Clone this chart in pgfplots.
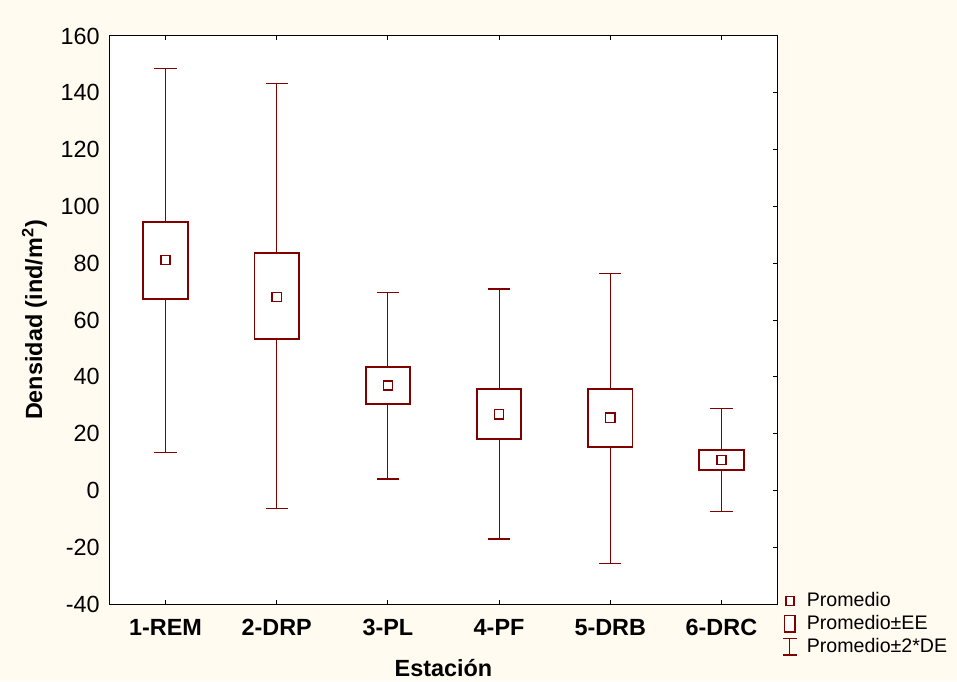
\documentclass[border=0pt]{standalone}
\usepackage{fontspec}
\setmainfont{Liberation Sans}
\usepackage{pgfplots}
\pgfplotsset{compat=1.18}
\usepgfplotslibrary{statistics}
\definecolor{boxred}{RGB}{128,0,0}
\definecolor{paper}{RGB}{255,251,240}
\newcommand{\tickfont}{\fontsize{11.7}{14}\selectfont}
\newcommand{\legfont}{\fontsize{9.8}{11.5}\selectfont}

\begin{document}
\begin{tikzpicture}
\path[use as bounding box] (0,0) rectangle (478.5pt,340.5pt);
\fill[paper] (0,0) rectangle (478.5pt,340.5pt);
\begin{axis}[
    at={(55pt,38.5pt)}, anchor=south west,
    scale only axis, width=333.5pt, height=284pt,
    xmin=0.5, xmax=6.5, ymin=-40, ymax=160,
    xtick={1,2,3,4,5,6},
    xticklabels={1-REM,2-DRP,3-PL,4-PF,5-DRB,6-DRC},
    ytick={-40,-20,...,160},
    tick align=inside, major tick length=2pt,
    xtick pos=both,
    yticklabel pos=left, ytick pos=right,
    axis line style={black, line width=0.5pt},
    tick style={black, line width=0.5pt},
    axis background/.style={fill=white},
    /pgf/number format/assume math mode=true,
    yticklabel style={font=\tickfont, xshift=-1.6pt},
    xticklabel style={font=\tickfont\bfseries, yshift=-4.1pt},
    xlabel={Estación},
    xlabel style={yshift=-5pt},
    ylabel={Densidad (ind/m\textsuperscript{2})},
    label style={font=\tickfont\bfseries},
    boxplot/draw direction=y,
    boxplot/box extend=0.4,
    boxplot/whisker extend=0.2,
    boxplot/draw/median/.code={},
    boxplot/every box/.style={draw=boxred, line width=0.85pt, fill=white},
    boxplot/every whisker/.style={draw=boxred, line width=0.55pt},
    legend style={draw=none, fill=none, font=\legfont,
        at={(1,0)}, anchor=north west, xshift=0.8pt, yshift=9pt,
        row sep=-1.2pt, inner sep=1pt,
        /tikz/every odd column/.append style={column sep=2.5pt}},
    legend cell align=left,
]
% box = promedio +/- EE, whiskers = promedio +/- 2*DE
\addplot+[forget plot, no marks, boxplot prepared={draw position=1,
    lower whisker=13.5, lower quartile=67.5, median=81.1,
    upper quartile=94.6, upper whisker=148.5}] coordinates {};
\addplot+[forget plot, no marks, boxplot prepared={draw position=2,
    lower whisker=-6.5, lower quartile=53.3, median=68.1,
    upper quartile=83.7, upper whisker=143.3}] coordinates {};
\addplot+[forget plot, no marks, boxplot prepared={draw position=3,
    lower whisker=4.0, lower quartile=30.4, median=36.9,
    upper quartile=43.5, upper whisker=69.6}] coordinates {};
\addplot+[forget plot, no marks, boxplot prepared={draw position=4,
    lower whisker=-17.1, lower quartile=18.1, median=26.8,
    upper quartile=35.8, upper whisker=70.9}] coordinates {};
\addplot+[forget plot, no marks, boxplot prepared={draw position=5,
    lower whisker=-25.6, lower quartile=15.3, median=25.6,
    upper quartile=35.8, upper whisker=76.5}] coordinates {};
\addplot+[forget plot, no marks, boxplot prepared={draw position=6,
    lower whisker=-7.5, lower quartile=7.2, median=10.7,
    upper quartile=14.2, upper whisker=28.7}] coordinates {};
% means
\addplot[forget plot, only marks, mark=square*, mark size=2.3pt,
    mark options={draw=boxred, fill=white, line width=0.75pt}]
    coordinates {(1,81.1) (2,68.1) (3,36.9) (4,26.8) (5,25.6) (6,10.7)};

\addlegendimage{legend image code/.code={
    \path (0pt,0pt) (8pt,0pt);
    \draw[boxred, line width=0.8pt, fill=white] (2.2pt,-2.2pt) rectangle (6.2pt,2.2pt);}}
\addlegendentry{Promedio}
\addlegendimage{legend image code/.code={
    \path (0pt,0pt) (8pt,0pt);
    \draw[boxred, line width=0.85pt, fill=white] (1.6pt,-4.2pt) rectangle (6.8pt,4.2pt);}}
\addlegendentry{Promedio±EE}
\addlegendimage{legend image code/.code={
    \path (0pt,0pt) (8pt,0pt);
    \draw[boxred, line width=0.55pt] (4.2pt,-4.2pt) -- (4.2pt,4.2pt)
        (0.8pt,-4.2pt) -- (7.6pt,-4.2pt) (0.8pt,4.2pt) -- (7.6pt,4.2pt);}}
\addlegendentry{Promedio±2*DE}
\end{axis}
\end{tikzpicture}
\end{document}
